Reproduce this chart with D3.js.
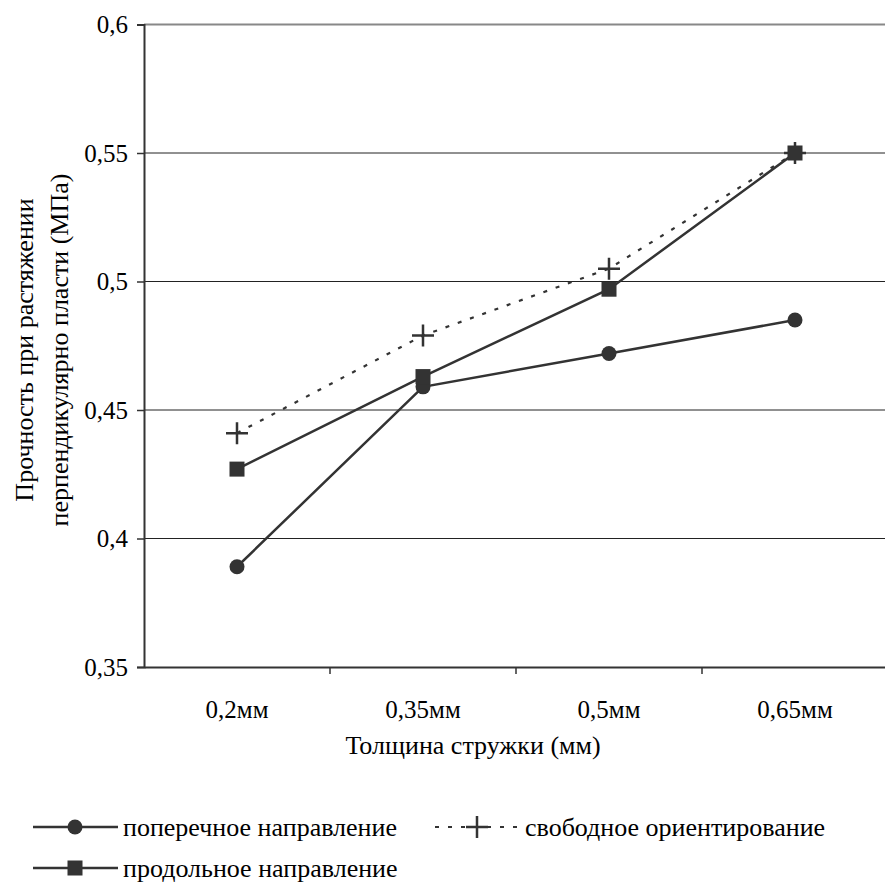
<!doctype html>
<html lang="ru">
<head>
  <meta charset="UTF-8">
  <title>Прочность при растяжении</title>
  <script src="https://cdn.jsdelivr.net/npm/d3@7"></script>
  <style>
    body { margin: 0; background: #fff; }
  </style>
</head>
<body>
<svg width="885" height="888" id="chart"></svg>
<script>
  var categories = ['0,2мм', '0,35мм', '0,5мм', '0,65мм'];
  var yTicks = [0.35, 0.4, 0.45, 0.5, 0.55, 0.6];
  var yTickLabels = ['0,35', '0,4', '0,45', '0,5', '0,55', '0,6'];
  var poperechnoe = [0.389, 0.459, 0.472, 0.485];
  var svobodnoe = [0.441, 0.479, 0.505, 0.55];
  var prodolnoe = [0.427, 0.463, 0.497, 0.55];

  var series = [
    {name: 'поперечное направление', values: poperechnoe, marker: 'circle', dash: null},
    {name: 'свободное ориентирование', values: svobodnoe, marker: 'plus', dash: '4,9'},
    {name: 'продольное направление', values: prodolnoe, marker: 'square', dash: null}
  ];

  (function () {
    var svg = d3.select('#chart'),
      margin = {top: 24.5, left: 144},
      width = 744,
      height = 642.5,
      ink = '#333';
    var tickSize = 25, labelSize = 26,
      font = "'Times New Roman', 'Liberation Serif', serif";

    svg.attr('font-family', font);

    var x = d3.scaleBand().domain(categories).range([0, width]).padding(0),
      y = d3.scaleLinear().domain([0.35, 0.6]).range([height, 0]);
    var g = svg.append('g').attr('transform', 'translate(' + margin.left + ',' + margin.top + ')');

    // grid
    g.selectAll('.grid').data(yTicks.slice(1)).enter().append('line')
      .attr('x1', 0).attr('x2', width)
      .attr('y1', function (d) { return y(d); })
      .attr('y2', function (d) { return y(d); })
      .attr('stroke', function (d) { return d === 0.6 ? '#888' : '#222'; })
      .attr('stroke-width', function (d) { return d === 0.6 ? 2 : 1; });

    // y axis
    var yAxis = g.append('g')
      .call(d3.axisLeft(y).tickValues(yTicks).tickSize(7).tickPadding(9)
        .tickFormat(function (d, i) { return yTickLabels[i]; }));
    yAxis.attr('font-family', font);
    yAxis.select('.domain').attr('stroke', ink).attr('stroke-width', 2);
    yAxis.selectAll('.tick line').attr('stroke', ink).attr('stroke-width', 1.5);
    yAxis.selectAll('.tick text').attr('font-size', tickSize).attr('fill', '#000');

    // x axis
    var xAxis = g.append('g').attr('transform', 'translate(0,' + height + ')')
      .call(d3.axisBottom(x).tickSize(0).tickPadding(33));
    xAxis.attr('font-family', font);
    xAxis.select('.domain').attr('stroke', ink).attr('stroke-width', 2);
    xAxis.selectAll('.tick text').attr('font-size', tickSize).attr('fill', '#000');
    g.selectAll('.xtick').data(categories.slice(1)).enter().append('line')
      .attr('x1', function (d) { return x(d); }).attr('x2', function (d) { return x(d); })
      .attr('y1', height).attr('y2', height + 7)
      .attr('stroke', ink).attr('stroke-width', 1.5);

    // axis titles
    svg.append('text')
      .attr('x', 473).attr('y', 754)
      .attr('text-anchor', 'middle')
      .attr('font-size', labelSize)
      .text('Толщина стружки (мм)');
    var yt = svg.append('text')
      .attr('transform', 'translate(0,350) rotate(-90)')
      .attr('text-anchor', 'middle')
      .attr('font-size', labelSize);
    yt.append('tspan').attr('x', 0).attr('y', 33).text('Прочность при растяжении');
    yt.append('tspan').attr('x', 0).attr('y', 68).text('перпендикулярно пласти (МПа)');

    function drawMarker(sel, type, cx, cy) {
      if (type === 'circle') {
        sel.append('circle').attr('cx', cx).attr('cy', cy).attr('r', 7.5).attr('fill', ink);
      } else if (type === 'square') {
        sel.append('rect').attr('x', cx - 7.5).attr('y', cy - 7.5)
          .attr('width', 15).attr('height', 15).attr('fill', ink);
      } else {
        sel.append('path')
          .attr('d', 'M' + (cx - 11) + ',' + cy + 'H' + (cx + 11) + 'M' + cx + ',' + (cy - 11) + 'V' + (cy + 11))
          .attr('stroke', ink).attr('stroke-width', 2.5).attr('fill', 'none');
      }
    }

    var line = d3.line()
      .x(function (d, i) { return x(categories[i]) + x.bandwidth() / 2; })
      .y(function (d) { return y(d); });

    series.forEach(function (s) {
      g.append('path')
        .datum(s.values)
        .attr('d', line)
        .attr('fill', 'none')
        .attr('stroke', ink)
        .attr('stroke-width', s.dash ? 2.2 : 2.5)
        .attr('stroke-dasharray', s.dash);
      var mg = g.append('g');
      s.values.forEach(function (v, i) {
        drawMarker(mg, s.marker, x(categories[i]) + x.bandwidth() / 2, y(v));
      });
    });

    // legend
    var legendPos = [
      {x1: 33, x2: 118, mx: 75, tx: 123, y: 827},
      {x1: 435, x2: 517, mx: 477, tx: 525, y: 827},
      {x1: 33, x2: 118, mx: 75, tx: 123, y: 868}
    ];
    series.forEach(function (s, i) {
      var p = legendPos[i], lg = svg.append('g');
      lg.append('line')
        .attr('x1', p.x1).attr('x2', p.x2).attr('y1', p.y).attr('y2', p.y)
        .attr('stroke', ink).attr('stroke-width', s.dash ? 2.2 : 2.5)
        .attr('stroke-dasharray', s.dash);
      drawMarker(lg, s.marker, p.mx, p.y);
      lg.append('text')
        .attr('x', p.tx).attr('y', p.y + 9)
        .attr('font-size', labelSize)
        .text(s.name);
    });
  })();
</script>
</body>
</html>
